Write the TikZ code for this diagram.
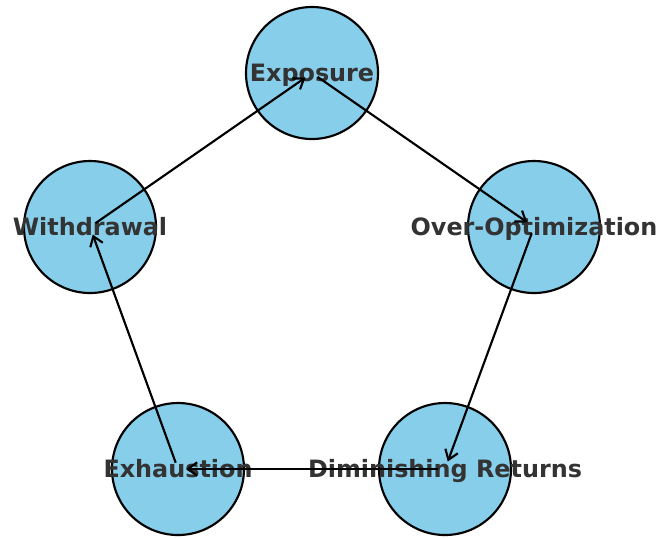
\documentclass[tikz,border=0pt]{standalone}
\usepackage{fontspec}
\setmainfont{DejaVu Sans}
\usetikzlibrary{arrows.meta}
\definecolor{skyblue}{HTML}{87CEEB}
\definecolor{labelgray}{HTML}{333333}
\begin{document}
\begin{tikzpicture}[x=0.75pt, y=-0.75pt,
    stage/.style={circle, draw=black, line width=1.6pt, fill=skyblue,
      minimum size=99pt, inner sep=0pt},
    lbl/.style={anchor=base, text=labelgray,
      font=\bfseries\fontsize{17.9}{21}\selectfont},
    flow/.style={-{Straight Barb[length=7pt,width=10pt,line width=1.6pt]},
      line width=1.6pt, shorten <=5pt, shorten >=6pt}]
  \useasboundingbox (0,0) rectangle (659,537);

  % stages of the cycle
  \node[stage] (exposure) at (312,73) {};
  \node[stage] (overopt) at (534,227) {};
  \node[stage] (diminish) at (445,469) {};
  \node[stage] (exhaust) at (178,469) {};
  \node[stage] (withdraw) at (90,227) {};

  % labels
  \node[lbl] (exposurelbl) at (312,81) {Exposure};
  \node[lbl] (overoptlbl) at (534,235) {Over-Optimization};
  \node[lbl] (diminishlbl) at (445,477) {Diminishing Returns};
  \node[lbl] (exhaustlbl) at (178,477) {Exhaustion};
  \node[lbl] (withdrawlbl) at (90,235) {Withdrawal};

  % cycle
  \draw[flow] (exposure.center) -- (overopt.center);
  \draw[flow] (overopt.center) -- (diminish.center);
  \draw[flow] (diminish.center) -- (exhaust.center);
  \draw[flow] (exhaust.center) -- (withdraw.center);
  \draw[flow] (withdraw.center) -- (exposure.center);
\end{tikzpicture}
\end{document}
